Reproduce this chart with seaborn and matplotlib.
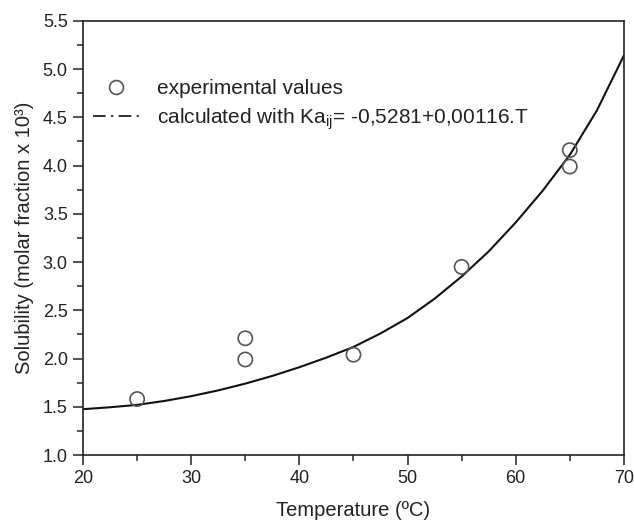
import matplotlib
matplotlib.use('Agg')
import matplotlib.pyplot as plt
from matplotlib.lines import Line2D
from matplotlib.ticker import MultipleLocator, FormatStrFormatter
import seaborn as sns
import pandas as pd

# experimental points
exp_temp = [25, 35, 35, 45, 55, 65, 65]
exp_sol = [1.58, 2.21, 1.99, 2.04, 2.95, 4.16, 3.99]

# calculated curve
calc_temp = [20, 22.5, 25, 27.5, 30, 32.5, 35, 37.5, 40, 42.5, 45, 47.5,
             50, 52.5, 55, 57.5, 60, 62.5, 65, 67.5, 70]
calc_sol = [1.475, 1.495, 1.52, 1.56, 1.61, 1.67, 1.74, 1.82, 1.91, 2.01, 2.12, 2.26,
            2.42, 2.62, 2.85, 3.11, 3.41, 3.74, 4.11, 4.57, 5.14]

sns.set_style('ticks')
plt.rcParams['font.family'] = ['Liberation Sans', 'DejaVu Sans']
plt.rcParams['text.color'] = '#222222'
plt.rcParams['axes.labelcolor'] = '#222222'

df_exp = pd.DataFrame({'T': exp_temp, 'S': exp_sol})
df_calc = pd.DataFrame({'T': calc_temp, 'S': calc_sol})

fig = plt.figure(figsize=(6.34, 5.25), dpi=100)
ax = fig.add_axes([0.131, 0.1333, 0.853, 0.827])

sns.lineplot(data=df_calc, x='T', y='S', ax=ax, color='#111111', linewidth=1.5)
sns.scatterplot(data=df_exp, x='T', y='S', ax=ax, marker='o', s=105,
                facecolor='none', edgecolor='#555555', linewidth=1.2, zorder=3)

ax.set_xlim(20, 70)
ax.set_ylim(1.0, 5.5)
ax.xaxis.set_major_locator(MultipleLocator(10))
ax.xaxis.set_minor_locator(MultipleLocator(5))
ax.yaxis.set_major_locator(MultipleLocator(0.5))
ax.yaxis.set_minor_locator(MultipleLocator(0.25))
ax.yaxis.set_major_formatter(FormatStrFormatter('%.1f'))

ax.tick_params(which='major', direction='out', length=7, width=1.1, pad=4,
               labelsize=13, colors='#222222', top=False, right=False)
ax.tick_params(which='minor', direction='out', length=4, width=1.1,
               top=False, right=False)
for sp in ax.spines.values():
    sp.set_linewidth(1.2)
    sp.set_color('#222222')

ax.set_xlabel('Temperature (ºC)', fontsize=14.5, labelpad=10)
ax.set_ylabel('Solubility (molar fraction x 10³)', fontsize=14.5, labelpad=6)

handles = [
    Line2D([], [], linestyle='none', marker='o', markersize=10,
           markerfacecolor='none', markeredgecolor='#555555', markeredgewidth=1.2),
    Line2D([], [], linestyle=(0, (7, 3, 1.2, 3)), color='#222222', linewidth=1.3),
]
labels = ['experimental values', 'calculated with Ka$_{\\mathregular{ij}}$= -0,5281+0,00116.T']
ax.legend(handles, labels, loc='upper left', bbox_to_anchor=(-0.008, 0.9),
          frameon=False, fontsize=15, handlelength=2.2, handletextpad=0.85,
          labelspacing=0.4, borderaxespad=0.3)

plt.savefig('out.png', dpi=100)
